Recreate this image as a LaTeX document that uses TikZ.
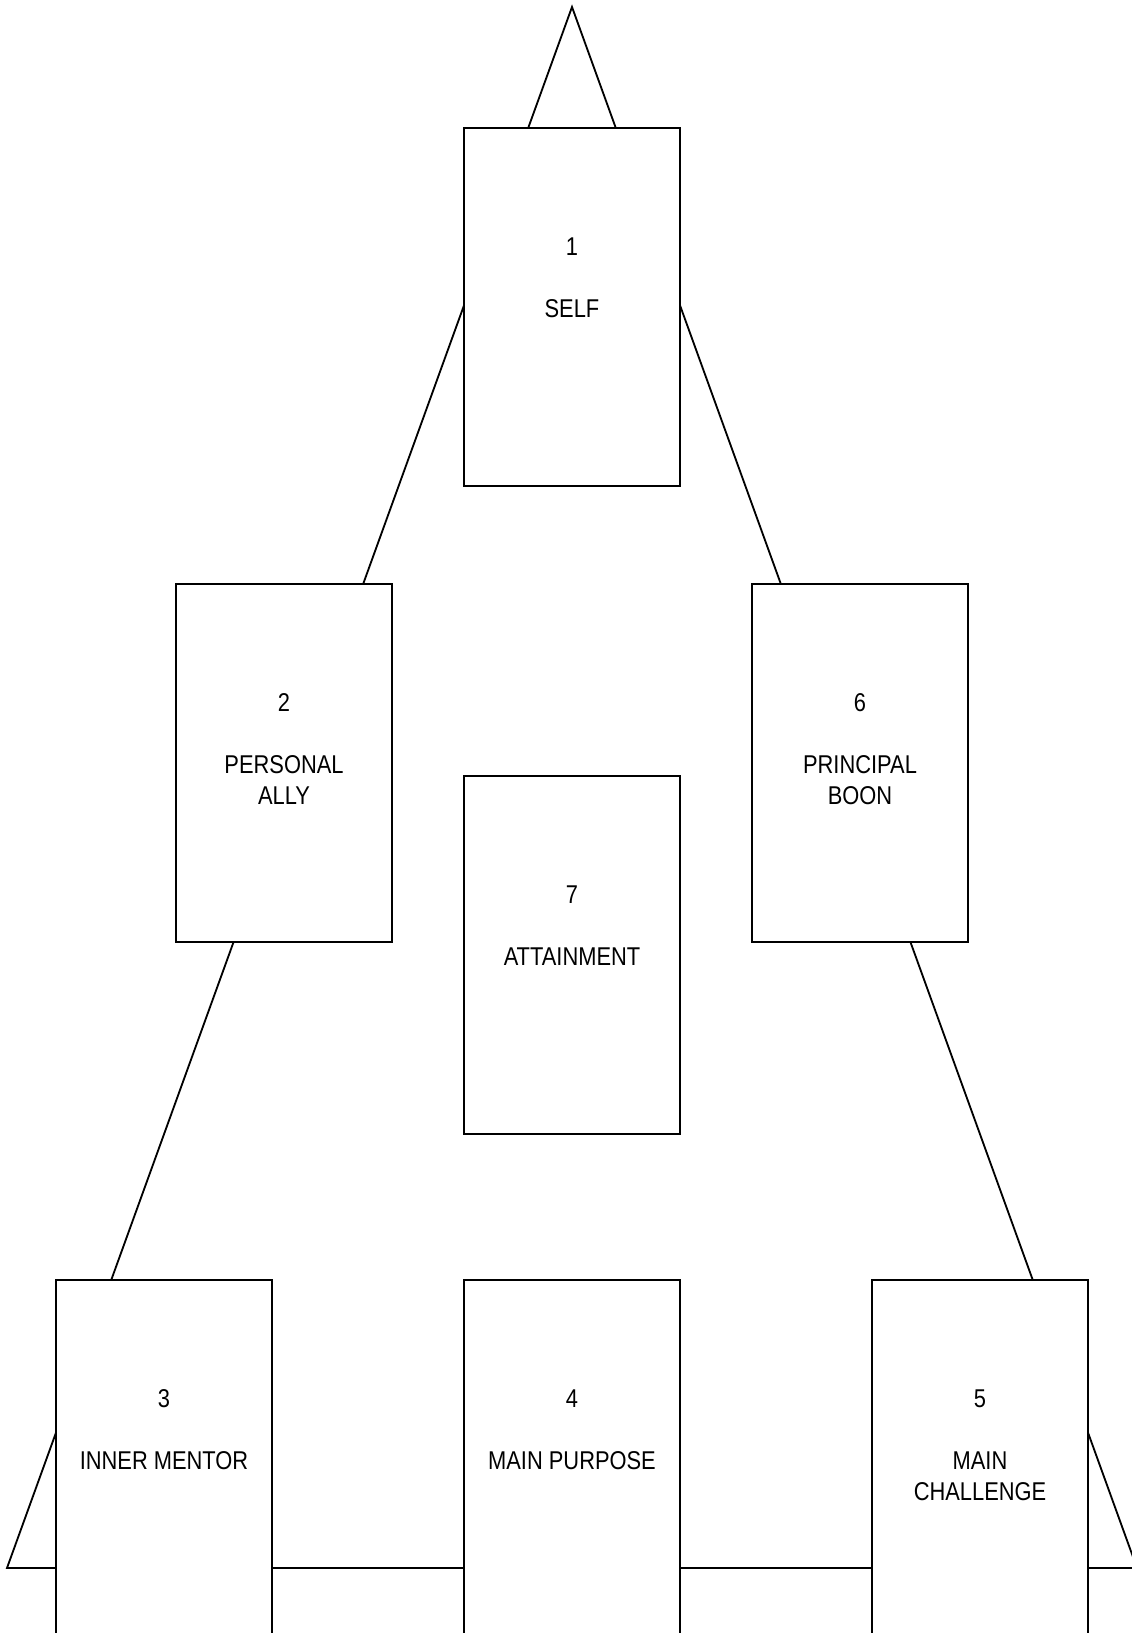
\documentclass[tikz,border=0pt]{standalone}
\usepackage{fontspec}
\setmainfont{Liberation Sans}[FakeStretch=0.85]
\usetikzlibrary{positioning}
\definecolor{MapInk}{RGB}{0,0,0}
\tikzset{
  map/card/.style={
    draw=MapInk,
    line width=1.3pt,
    fill=white,
    minimum width=5.4cm,
    minimum height=8.95cm,
    inner sep=0pt
  },
  map/cardtext/.style={
    align=center,
    inner sep=0pt,
    text=MapInk,
    font=\fontsize{18.3}{22}\selectfont
  },
  map/edge/.style={draw=MapInk, line width=1.3pt, line join=miter}
}

\begin{document}
\begin{tikzpicture}[x=1cm,y=1cm]
  \useasboundingbox (0,0) rectangle (28.275,40.825);
  % outer triangle
  \coordinate (apex) at (14.3,40.65);
  \coordinate (left) at (0.175,1.625);
  \coordinate (right) at (28.425,1.625);
  \draw[map/edge] (apex) -- (left) -- (right) -- cycle;
  % cards
  \node[map/card] (self) at (14.3,33.15) {};
  \node[map/card] (ally) at (7.1,21.75) {};
  \node[map/card] (boon) at (21.5,21.75) {};
  \node[map/card] (attain) at (14.3,16.95) {};
  \node[map/card] (mentor) at (4.1,4.35) {};
  \node[map/card] (purpose) at (14.3,4.35) {};
  \node[map/card] (challenge) at (24.5,4.35) {};
  \node[map/cardtext,below=2.76cm of self.north] (selftext) {1\\[22pt]SELF};
  \node[map/cardtext,below=2.76cm of ally.north] (allytext) {2\\[22pt]PERSONAL\\ALLY};
  \node[map/cardtext,below=2.76cm of boon.north] (boontext) {6\\[22pt]PRINCIPAL\\BOON};
  \node[map/cardtext,below=2.76cm of attain.north] (attaintext) {7\\[22pt]ATTAINMENT};
  \node[map/cardtext,below=2.76cm of mentor.north] (mentortext) {3\\[22pt]INNER MENTOR};
  \node[map/cardtext,below=2.76cm of purpose.north] (purposetext) {4\\[22pt]MAIN PURPOSE};
  \node[map/cardtext,below=2.76cm of challenge.north] (challengetext) {5\\[22pt]MAIN\\CHALLENGE};
\end{tikzpicture}
\end{document}
